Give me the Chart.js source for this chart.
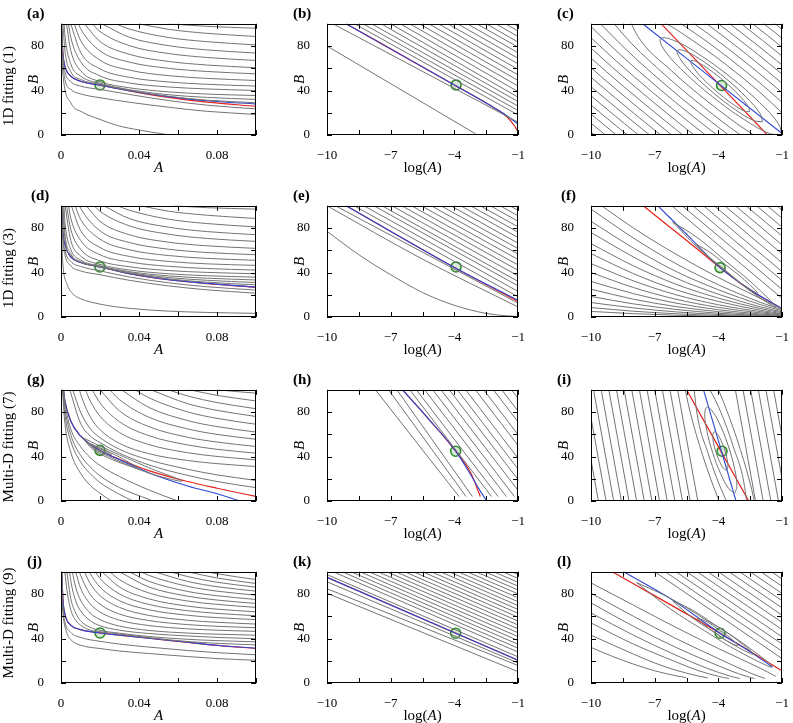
<!DOCTYPE html>
<html><head><meta charset="utf-8">
<script src="https://cdn.jsdelivr.net/npm/chart.js@4.4.1/dist/chart.umd.min.js"></script>
<style>
html,body{margin:0;padding:0;background:#fff;}
body{width:793px;height:723px;position:relative;overflow:hidden;font-family:"Liberation Serif","Times New Roman",serif;color:#000;}
canvas{position:absolute;}
.rl{position:absolute;width:220px;height:20px;line-height:20px;text-align:center;font-size:15px;transform:rotate(-90deg);white-space:nowrap;}
.pl{position:absolute;height:18px;line-height:18px;font-size:15px;font-weight:bold;white-space:nowrap;}
</style></head><body>
<script>
// ---------- labels / ticks ----------
const rowLabels = ['1D fitting (1)', '1D fitting (3)', 'Multi-D fitting (7)', 'Multi-D fitting (9)'];
const panelLetters = ['(a)','(b)','(c)','(d)','(e)','(f)','(g)','(h)','(i)','(j)','(k)','(l)'];
const yTickLabels = [0, 40, 80];
const linTickLabels = [0, 0.04, 0.08];
const logTickLabels = [-10, -7, -4, -1];

// ---------- panel (a) ----------
const aCurves = [
[[0.055,100],[0.075,97.7],[0.1,96]],
[[0.04,100],[0.055,95.1],[0.075,91.4],[0.1,88.6]],
[[0.028,100],[0.035,95.3],[0.055,87.7],[0.075,83.9],[0.1,81]],
[[0.021,100],[0.035,87.9],[0.055,80.4],[0.075,76.5],[0.1,73.7]],
[[0.016,100],[0.02,93.1],[0.035,80.4],[0.055,73.3],[0.075,69.7],[0.1,67]],
[[0.012,100],[0.02,84.1],[0.035,72.6],[0.055,66.2],[0.075,62.9],[0.1,60.5]],
[[0.009,100],[0.01,95.8],[0.02,75.7],[0.035,65.6],[0.055,60],[0.075,57.1],[0.1,55]],
[[0.0068,100],[0.01,85.2],[0.02,67.3],[0.035,58.4],[0.055,53.4],[0.075,50.9],[0.1,49]],
[[0.005,100],[0.01,74.6],[0.02,59.5],[0.035,51.9],[0.055,47.7],[0.075,45.6],[0.1,44]],
[[0.0038,100],[0.005,87.9],[0.01,66.1],[0.02,53.2],[0.035,46.8],[0.055,43.2],[0.075,41.4],[0.1,40]],
[[0.0028,100],[0.005,76],[0.01,58],[0.02,48],[0.035,42.5],[0.055,38.8],[0.075,36.8],[0.1,35.5]],
[[0.0016,100],[0.002,90],[0.005,64],[0.01,53],[0.02,46.5],[0.035,40.8],[0.055,36.2],[0.075,33.8],[0.1,32]],
[[0.001,100],[0.002,76],[0.005,57],[0.01,50],[0.02,45.6],[0.035,40.2],[0.055,34.8],[0.075,31.3],[0.1,29]],
[[0.0003,100],[0.001,70],[0.002,57],[0.005,48],[0.01,44],[0.02,41],[0.035,36.5],[0.055,31],[0.075,26.8],[0.1,23.5]],
[[0.00025,100],[0.001,66],[0.002,50],[0.005,41],[0.01,37],[0.02,33.5],[0.035,29.5],[0.055,25],[0.075,21.3],[0.1,18.5]],
[[0.00015,100],[0.0005,70],[0.0012,51],[0.005,29],[0.011,20.5],[0.02,14],[0.029,8.5],[0.04,4.5],[0.052,1],[0.06,-1]]
];
const aRed  = [[0.0002,100],[0.001,73],[0.002,62],[0.005,53],[0.01,48.3],[0.02,44.8],[0.035,39.6],[0.055,33.8],[0.075,29.5],[0.1,25.8]];
const aBlue = [[0.0002,100],[0.001,73],[0.002,62],[0.005,53],[0.01,48.3],[0.02,44.8],[0.035,39.8],[0.055,34.5],[0.075,30.8],[0.1,27.8]];
const aBest = [0.02, 45];

// ---------- panel (b) ----------
const bTopX   = [-8.7,-8.3,-7.9,-7.45,-7.0,-6.55,-6.1,-5.65,-5.2,-4.75,-4.3,-3.85,-3.4,-2.95,-2.5,-2.05,-1.6,-1.2];
const bRightB = [18,22,26,30,34,39,44,49,54,59,64,69,74,79,83.5,88.5,93.4,97.8];
const bOther  = [[[-9.72,100],[-1,11.5]], [[-10,80],[-3.0,1]]];
const bRed  = [[-9.1,100],[-4,45],[-2,23],[-1.5,16],[-1.2,9],[-1,3]];
const bBlue = [[-9.1,100],[-4,45],[-2,23],[-1.5,17],[-1,9.7]];
const bBest = [-3.92, 45];

// ---------- panel (c) ----------
const cLowerArcs = [
[[-8.379,112],[-7.787,88.54],[-6.209,57.78],[-4.494,29.94],[-2.679,4.26],[-0.725,-18.5]],
[[-9.573,114.86],[-8.085,82.19],[-6.44,52.82],[-4.712,25.28],[-2.91,-0.7],[-1.023,-24.85]],
[[-9.927,107.29],[-8.339,76.74],[-6.666,47.99],[-4.93,20.61],[-3.136,-5.53]],
[[-10.208,101.28],[-8.58,71.59],[-6.889,43.22],[-5.148,15.95],[-3.359,-10.3]],
[[-10.466,95.77],[-8.813,66.61],[-7.11,38.49],[-5.366,11.29],[-3.58,-15.03]],
[[-10.712,90.51],[-9.043,61.69],[-7.331,33.77],[-5.584,6.63],[-3.801,-19.75]],
[[-10.95,85.4],[-9.269,56.86],[-7.551,29.06],[-5.802,1.97],[-4.021,-24.46]],
[[-11.184,80.4],[-9.493,52.05],[-7.77,24.38],[-6.02,-2.7]],
[[-11.415,75.46],[-9.716,47.28],[-7.991,19.66],[-6.238,-7.36]],
[[-11.643,70.59],[-9.94,42.5],[-8.209,14.99],[-6.456,-12.02]],
[[-11.871,65.72],[-10.16,37.79],[-8.428,10.31],[-6.674,-16.68]],
[[-12.097,60.88],[-10.383,33.02],[-8.647,5.63],[-6.892,-21.34]],
[[-12.317,56.18],[-10.601,28.36],[-8.865,0.97],[-7.11,-26.01]],
[[-12.545,51.31],[-10.823,23.61],[-9.083,-3.7]],
[[-12.767,46.56],[-11.044,18.89],[-9.301,-8.36]]
];
const cUpperArcs = [
[[-8.379,112],[-6.995,105.5],[-5.041,82.74],[-3.226,57.06],[-1.511,29.22],[0.067,-1.54]],
[[-6.697,111.85],[-4.81,87.7],[-3.008,61.72],[-1.28,34.18],[0.365,4.81]],
[[-6.443,117.3],[-4.584,92.53],[-2.79,66.39],[-1.054,39.01],[0.619,10.26]],
[[-6.202,122.45],[-4.361,97.3],[-2.572,71.05],[-0.831,43.78],[0.86,15.41]],
[[-4.14,102.03],[-2.354,75.71],[-0.61,48.51],[1.093,20.39]],
[[-3.919,106.75],[-2.136,80.37],[-0.389,53.23],[1.323,25.31]],
[[-3.699,111.46],[-1.918,85.03],[-0.169,57.94],[1.549,30.14]],
[[-3.48,116.14],[-1.7,89.7],[0.05,62.62],[1.773,34.95]],
[[-3.259,120.86],[-1.482,94.36],[0.271,67.34]],
[[-3.041,125.53],[-1.264,99.02],[0.489,72.01]]
];
const cRings = [
[[-2.525,20.82],[-2.814,21.85],[-3.397,28.76],[-4.117,39.69],[-4.781,51.7],[-5.21,61.61],[-5.291,66.72],[-5.002,65.69],[-4.419,58.78],[-3.699,47.85],[-3.035,35.84],[-2.606,25.93],[-2.525,20.82]],
[[-1.923,11.89],[-2.345,13.1],[-3.19,22.59],[-4.231,37.83],[-5.19,54.73],[-5.809,68.78],[-5.923,76.19],[-5.501,74.98],[-4.656,65.49],[-3.615,50.25],[-2.656,33.35],[-2.037,19.3],[-1.923,11.89]],
[[-1.002,0],[-1.594,1.37],[-2.792,13.97],[-4.278,34.45],[-5.652,57.31],[-6.546,76.43],[-6.722,86.7],[-6.13,85.33],[-4.932,72.73],[-3.446,52.25],[-2.072,29.39],[-1.178,10.27],[-1.002,0]]
];
const cRed  = [[-6.69,100],[-1.69,0]];
const cBlue = [[-7.57,100],[-1,1.4]];
const cBest = [-3.85, 44.5];

// ---------- panel (d) ----------
const dCurves = [
[[0.058,100],[0.075,98.3],[0.1,97]],
[[0.041,100],[0.055,95.2],[0.075,91.5],[0.1,88.6]],
[[0.029,100],[0.035,96],[0.055,88],[0.075,84],[0.1,81]],
[[0.022,100],[0.035,88.5],[0.055,80.8],[0.075,76.8],[0.1,74]],
[[0.017,100],[0.02,95],[0.035,82],[0.055,74.5],[0.075,70.6],[0.1,68]],
[[0.013,100],[0.02,86],[0.035,74],[0.055,67.3],[0.075,64],[0.1,61.7]],
[[0.0095,100],[0.01,98],[0.02,77.5],[0.035,67],[0.055,61],[0.075,58],[0.1,56]],
[[0.0072,100],[0.01,88],[0.02,70],[0.035,60.5],[0.055,55.3],[0.075,52.7],[0.1,51]],
[[0.0053,100],[0.01,78],[0.02,62.5],[0.035,54.5],[0.055,50],[0.075,47.8],[0.1,46.4]],
[[0.0039,100],[0.005,89],[0.01,69],[0.02,56],[0.035,49.5],[0.055,45.6],[0.075,43.6],[0.1,42.2]],
[[0.0029,100],[0.005,79],[0.01,61],[0.02,50.5],[0.035,45.2],[0.055,41.8],[0.075,40.1],[0.1,38.9]],
[[0.0021,100],[0.005,69],[0.01,55],[0.02,47.3],[0.035,42.3],[0.055,38.9],[0.075,37.1],[0.1,35.8]],
[[0.0015,100],[0.002,86],[0.005,61],[0.01,51.3],[0.02,45.9],[0.035,40.8],[0.055,37],[0.075,34.9],[0.1,33.3]],
[[0.001,100],[0.002,75],[0.005,57],[0.01,49.8],[0.02,45.4],[0.035,40],[0.055,35.5],[0.075,33],[0.1,31]],
[[0.0007,100],[0.002,70],[0.005,55.5],[0.01,49.3],[0.02,45.2],[0.035,39.4],[0.055,34.3],[0.075,31.3],[0.1,28.9]],
[[0.00025,100],[0.001,72],[0.002,60],[0.005,50],[0.01,45.5],[0.02,41.5],[0.035,36],[0.055,30.8],[0.075,27.2],[0.1,24.2]],
[[0.0002,100],[0.001,69],[0.002,56],[0.005,46],[0.01,41.5],[0.02,38],[0.035,33],[0.055,28],[0.075,24.4],[0.1,21.4]],
[[0.00012,100],[0.0005,65],[0.001,47],[0.003,30],[0.006,21],[0.01,16.5],[0.02,11.6],[0.035,7.8],[0.055,5.3],[0.075,4.1],[0.1,3.3]]
];
const dRed  = [[0.0003,100],[0.001,76],[0.002,65],[0.005,54],[0.01,49],[0.02,45],[0.035,39],[0.055,33.5],[0.075,30],[0.1,26.7]];
const dBlue = [[0.0003,100],[0.001,76],[0.002,65],[0.005,54],[0.01,49],[0.02,45],[0.035,39],[0.055,33.6],[0.075,30.2],[0.1,27]];
const dBest = [0.02, 45];

// ---------- panel (e) ----------
const eTopX   = [-8.72,-8.26,-7.79,-7.41,-6.94,-6.48,-6.02,-5.56,-5.09,-4.63,-4.17,-3.70,-3.24,-2.78,-2.31,-1.85,-1.39];
const eRightB = [18.2,23,28,32,37,42,46.8,51.7,56.6,61.5,66.4,71.4,76.3,81.1,86.1,91,95.9];
const eOther  = [
[[-10,100],[-5.5,52],[-1,9]],
[[-9.6,100],[-1,12.5]],
[[-10,77],[-8.5,56],[-7,38],[-5.5,22],[-4,10.5],[-2.5,3.2],[-1.5,1],[-1.1,0.6]]
];
const eRed  = [[-9.1,100],[-4,44.5],[-1,14]];
const eBlue = [[-9.1,100],[-4,44.5],[-1,15]];
const eBest = [-3.92, 45];

// ---------- panel (f) ----------
const fTopX   = [-6.2,-5.7,-5.2,-4.7,-4.2,-3.7,-3.2,-2.7,-2.2,-1.7,-1.25];
const fRightB = [16.8,24.8,32.8,40.8,48.8,56.8,64.8,72.8,80.8,88.8,96];
const fFan = [
[[-9.5,100],[-8,80],[-6,56.5],[-4,35.5],[-2,16.5],[-1,7.2]],
[[-10,97],[-8,71],[-6,48],[-4,29],[-2,13],[-1,6.5]],
[[-10,86],[-8,62],[-6,41],[-4,24.5],[-2,11],[-1,5.5]],
[[-10,76],[-8,54],[-6,35],[-4,20.5],[-2,9],[-1,4.6]],
[[-10,66],[-8,46],[-6,29.5],[-4,17],[-2,7.5],[-1,3.8]],
[[-10,57],[-8,39],[-6,24.5],[-4,14],[-2,6],[-1,3]],
[[-10,48],[-8,32.5],[-6,20],[-4,11],[-2,4.8],[-1,2.4]],
[[-10,40],[-8,26.5],[-6,16],[-4,8.6],[-2,3.7],[-1,1.8]],
[[-10,32],[-8,21],[-6,12.5],[-4,6.5],[-2,2.7],[-1,1.3]],
[[-10,25],[-8,16],[-6,9.4],[-4,4.8],[-2,1.9],[-1,0.9]],
[[-10,18.5],[-8,11.8],[-6,6.8],[-4,3.4],[-2,1.3],[-1,0.6]],
[[-10,13],[-8,8.2],[-6,4.6],[-4,2.3],[-2,0.8],[-1,0.4]],
[[-10,8.5],[-8,5.2],[-6,2.9],[-4,1.4],[-2,0.5],[-1,0.2]],
[[-10,5],[-8,3],[-6,1.6],[-4,0.7],[-2,0.2],[-1,0.1]]
];
const fRings = [
[[-5.08,65.8],[-4.35,57.5],[-3.6,46],[-2.9,35.5],[-2.15,21.4],[-2.9,30],[-3.6,40.5],[-4.35,52],[-5.08,65.8]],
[[-6.15,85.3],[-5,71.5],[-3.7,51],[-2.5,32],[-1.3,9],[-2.5,23.5],[-3.7,42.5],[-5,63],[-6.15,85.3]]
];
const fRed  = [[-7.54,100],[-5.7,72],[-3.92,44.4],[-2.5,24],[-1,7.5]];
const fBlue = [[-6.85,100],[-5.4,72.5],[-3.92,44.4],[-2.5,24.5],[-1,7.5]];
const fBest = [-3.92, 44.4];

// ---------- panel (g) ----------
const gCurves = [
[[0.08,100],[0.09,98.4],[0.1,97]],
[[0.066,100],[0.08,95],[0.1,90]],
[[0.055,100],[0.065,94.4],[0.08,88.5],[0.1,83]],
[[0.046,100],[0.065,87.5],[0.08,81.5],[0.1,76]],
[[0.038,100],[0.045,92.9],[0.065,80.1],[0.08,74.3],[0.1,69]],
[[0.031,100],[0.045,84.2],[0.065,72.3],[0.08,66.9],[0.1,62]],
[[0.025,100],[0.03,91.1],[0.045,75.4],[0.065,64.8],[0.08,59.9],[0.1,55.5]],
[[0.02,100],[0.03,81],[0.045,66.9],[0.065,57.3],[0.08,53],[0.1,49]],
[[0.016,100],[0.02,88.2],[0.03,71.3],[0.045,58.8],[0.065,50.4],[0.08,46.5],[0.1,43]],
[[0.0125,100],[0.015,89.9],[0.02,76.3],[0.03,61.6],[0.045,50.8],[0.065,43.4],[0.08,40.1],[0.1,37]],
[[0.0095,100],[0.01,96.6],[0.015,75.7],[0.02,64.2],[0.03,51.8],[0.045,42.6],[0.065,36.4],[0.08,33.6],[0.1,31]],
[[0.006,100],[0.01,80],[0.015,65],[0.02,57],[0.03,46.5],[0.045,37],[0.065,28.5],[0.08,23.5],[0.1,18.5]],
[[0.0045,100],[0.01,70],[0.015,58.5],[0.02,52.5],[0.03,43],[0.045,32.5],[0.065,23],[0.08,17.5],[0.1,12]],
[[0.0007,100],[0.002,70],[0.005,44],[0.01,25],[0.015,14],[0.02,7],[0.024,2],[0.027,-1]],
[[0.0009,100],[0.002,78],[0.005,54],[0.01,35.2],[0.015,24.5],[0.02,16.6],[0.03,6],[0.037,0],[0.04,-2]],
[[0.0011,100],[0.002,84],[0.005,59.6],[0.01,41.2],[0.015,30.5],[0.02,22.7],[0.03,12],[0.045,1.5],[0.05,-2]],
[[0.0012,100],[0.002,88],[0.005,64.7],[0.01,49],[0.015,39],[0.02,32],[0.03,22],[0.045,10],[0.06,0],[0.065,-3]]
];
const gRings = [
[[0.015,50.5],[0.019,47.6],[0.023,44.5],[0.026,41.5],[0.022,43.8],[0.018,46.6],[0.015,50.5]],
[[0.013,53],[0.02,47.8],[0.03,39.5],[0.04,29],[0.033,33.5],[0.024,40.5],[0.017,47],[0.013,53]],
[[0.011,57],[0.02,49.5],[0.03,41.5],[0.045,30],[0.062,18],[0.05,22.5],[0.035,31.5],[0.024,39],[0.016,47],[0.011,57]]
];
const gRed  = [[0.0013,100],[0.002,90],[0.005,72],[0.01,58.5],[0.015,51],[0.02,45.5],[0.03,37.5],[0.045,27.3],[0.065,17.5],[0.08,11.5],[0.1,4.1]];
const gBlue = [[0.0013,100],[0.002,90],[0.005,72],[0.01,58.5],[0.015,51],[0.02,45.5],[0.03,37],[0.045,25.5],[0.065,13.5],[0.08,6.5],[0.092,0],[0.1,-4]];
const gBest = [0.02, 45.5];

// ---------- panel (h) ----------
const hTopX    = [-7.72,-7.1,-6.71,-6.1,-5.79,-5.40,-5.02,-4.63,-4.24,-3.86,-3.47,-3.01,-2.62,-2.16,-1.77,-1.31];
const hBottomX = [-3.78,-3.45,-3.15,-2.25,-1.94,-1.55,-1.17,-0.78,-0.39,-0.01,0.38,0.84,1.23,1.69,2.08,2.54];
const hRed  = [[-6.44,100],[-5.2,73.5],[-3.94,44.8],[-3.2,24],[-2.78,4.1]];
const hBlue = [[-6.44,100],[-5.2,73.5],[-3.94,44.8],[-3.2,22.5],[-2.75,8],[-2.47,0]];
const hBest = [-3.94, 44.8];

// ---------- panel (i) ----------
const iTopX    = [-10.6,-10.24,-9.88,-9.52,-9.16,-8.8,-8.44,-8.08,-7.72,-7.36,-7.0,-6.64,-6.28,-5.92,-3.2,-2.84,-2.48,-2.12,-1.76,-1.4,-1.04];
const iBottomX = [-9.65,-9.29,-8.93,-8.57,-8.21,-7.85,-7.49,-7.13,-6.77,-6.41,-6.05,-5.69,-5.33,-4.97,-2.25,-1.89,-1.53,-1.17,-0.81,-0.45,-0.09];
const iArcs = [
[[-5.19,110.64],[-5.039,82.59],[-4.474,42.36],[-3.699,3.29],[-2.956,-21.54]],
[[-4.814,112.7],[-4.071,87.87],[-3.296,48.8],[-2.731,8.57],[-2.58,-19.48]],
[[-5.65,108.13],[-5.341,80.94],[-4.739,40.92],[-4.001,1.64],[-3.416,-24.05]],
[[-4.354,115.21],[-3.769,89.52],[-3.031,50.24],[-2.429,10.22],[-2.12,-16.97]]
];
const iRings = [
[[-3.616,27.64],[-3.758,29.39],[-3.94,35.3],[-4.114,43.77],[-4.232,52.56],[-4.264,59.29],[-4.2,62.16],[-4.058,60.41],[-3.876,54.5],[-3.702,46.03],[-3.584,37.24],[-3.552,30.51],[-3.616,27.64]],
[[-3.231,6.9],[-3.51,11.05],[-3.89,24.43],[-4.268,43.49],[-4.544,63.11],[-4.642,78.03],[-4.539,84.26],[-4.26,80.12],[-3.88,66.73],[-3.502,47.67],[-3.226,28.05],[-3.128,13.14],[-3.231,6.9]]
];
const iRed  = [[-5.5,100],[-2.57,0]];
const iBlue = [[-4.7,100],[-3.17,0]];
const iBest = [-3.83, 44.8];

// ---------- panel (j) ----------
const jCurves = [
[[0.075,100],[0.08,98.25],[0.1,93]],
[[0.065,100],[0.08,94.4],[0.1,89.5]],
[[0.056,100],[0.065,95.7],[0.08,90.6],[0.1,86.2]],
[[0.048,100],[0.065,91.3],[0.08,86.6],[0.1,82.6]],
[[0.041,100],[0.045,96.8],[0.065,86.9],[0.08,82.6],[0.1,79]],
[[0.035,100],[0.045,91.5],[0.065,82.3],[0.08,78.5],[0.1,75.1]],
[[0.03,100],[0.045,86.4],[0.065,78.1],[0.08,74.6],[0.1,71.5]],
[[0.025,100],[0.03,92.9],[0.045,81],[0.065,73.7],[0.08,70.7],[0.1,68]],
[[0.021,100],[0.03,86.3],[0.045,75.7],[0.065,69.1],[0.08,66.4],[0.1,64]],
[[0.0175,100],[0.02,94],[0.03,80.1],[0.045,70.7],[0.065,65],[0.08,62.6],[0.1,60.5]],
[[0.0145,100],[0.015,98.3],[0.02,86.2],[0.03,74],[0.045,65.9],[0.065,60.9],[0.08,58.8],[0.1,57]],
[[0.012,100],[0.015,89.3],[0.02,78.6],[0.03,68],[0.045,60.8],[0.065,56.4],[0.08,54.6],[0.1,53]],
[[0.0095,100],[0.01,97.2],[0.015,79.6],[0.02,70.8],[0.03,62],[0.045,56.2],[0.065,52.5],[0.08,51],[0.1,49.7]],
[[0.0075,100],[0.01,85.5],[0.015,71.1],[0.02,63.8],[0.03,56.5],[0.045,51.7],[0.065,48.7],[0.08,47.5],[0.1,46.4]],
[[0.0058,100],[0.0075,86.3],[0.01,74.6],[0.015,62.9],[0.02,57],[0.03,51.2],[0.045,47.3],[0.065,44.9],[0.08,43.9],[0.1,43]],
[[0.0044,100],[0.005,92],[0.0075,74],[0.01,65],[0.015,56],[0.02,51.5],[0.03,47.5],[0.045,44.5],[0.065,42.3],[0.08,41],[0.1,39.8]],
[[0.003,100],[0.005,76],[0.0075,63],[0.01,56],[0.015,50],[0.02,47.3],[0.03,44.8],[0.045,41.8],[0.065,39.3],[0.08,38.1],[0.1,37]],
[[0.002,100],[0.003,84],[0.005,66],[0.0075,56.5],[0.01,52],[0.015,47.5],[0.02,46],[0.03,44],[0.045,40.8],[0.065,37.3],[0.08,35.7],[0.1,34.3]],
[[0.0003,100],[0.001,68],[0.002,55],[0.005,45.5],[0.01,41],[0.02,37.5],[0.03,35],[0.045,32.3],[0.065,29.2],[0.08,27.3],[0.1,25.4]],
[[0.0002,100],[0.0006,72],[0.001,62],[0.003,45],[0.005,39],[0.01,34],[0.02,31],[0.03,28.8],[0.045,26.5],[0.065,23.8],[0.08,22],[0.1,20.4]]
];
const jRed  = [[0.0004,100],[0.001,75],[0.002,62],[0.005,52],[0.01,48],[0.02,45],[0.03,43],[0.045,40.3],[0.065,36.5],[0.08,33.8],[0.1,31]];
const jBlue = [[0.0004,100],[0.001,75],[0.002,62],[0.005,52],[0.01,48],[0.02,45],[0.03,43],[0.045,40.3],[0.065,36.6],[0.08,34],[0.1,31.3]];
const jBest = [0.02, 45];

// ---------- panel (k) ----------
const kTopX   = [-9.7,-9.28,-8.86,-8.44,-8.02,-7.6,-7.18,-6.76,-6.34,-5.92,-5.5,-5.08,-4.66,-4.24,-3.82,-3.4,-2.98,-2.56,-2.14,-1.72,-1.3];
const kRightB = [27.8,31.3,34.8,38.2,41.7,45.2,48.7,52.2,55.7,59.2,62.6,66.1,69.6,73.1,76.6,80.1,83.6,87.1,90.5,94,97.5];
const kLeftB  = [97.5,91,84.8,80.7];
const kEndB   = [23.5,18,15.7,10.2];
const kRed  = [[-10,95],[-1,20.4]];
const kBlue = [[-10,95],[-1,20.4]];
const kBest = [-3.94, 44.8];

// ---------- panel (l) ----------
const lTopX   = [-7.0,-6.5,-6.0,-5.5,-5.0,-4.5,-4.0,-3.5,-3.0,-2.5,-2.0,-1.5];
const lRightB = [22,28.5,35,41.5,48,54.5,61,67.5,74,80.5,87,93.5];
const lFan = [
[[-10,90],[-8,70],[-6,50],[-4,31],[-2,13],[-1.3,6]],
[[-10,80.7],[-8,60],[-6,40],[-4,22],[-2.5,9],[-1.8,4]],
[[-10,72],[-8,51],[-6,32],[-4,15.5],[-3,8],[-2.3,4]],
[[-10,63],[-8,43],[-6,25],[-4.5,13],[-3.5,6.5],[-3,4]],
[[-10,54],[-8,35],[-6,19],[-5,11.5],[-4,6],[-3.5,4]],
[[-10,43],[-8,26],[-7,18],[-6,11.5],[-5,6.5],[-4.5,4.5]],
[[-10,32],[-9,24],[-8,17],[-7,11],[-6,6.5],[-5.5,4.8]]
];
const lRings = [
[[-7.85,90.3],[-6.25,76],[-4.65,57.5],[-3.05,38.5],[-1.46,14.4],[-3.05,28.5],[-4.65,47],[-6.25,66.5],[-7.85,90.3]],
[[-6.15,73.8],[-5.2,65.3],[-4.25,53.4],[-3.3,41.4],[-2.35,26],[-3.3,34.4],[-4.25,46.4],[-5.2,58.3],[-6.15,73.8]],
[[-5.0,58.6],[-4.52,54.9],[-4.04,48.6],[-3.56,42.4],[-3.08,33.7],[-3.56,37.4],[-4.04,43.6],[-4.52,49.9],[-5.0,58.6]]
];
const lRed  = [[-9.0,100],[-3.92,44.8],[-1,11]];
const lBlue = [[-8.46,100],[-6.15,74.5],[-3.92,44.8],[-2.5,28],[-1.46,14.4]];
const lBest = [-3.92, 44.8];

// ---------- build helpers (tables from the arrays above) ----------
const segTopRight = (tx, rb) => tx.map((t, i) => [[t, 100], [-1, rb[i]]]);
const segTopBottom = (tx, bx, yb) => tx.map((t, i) => [[t, 100], [bx[i], yb]]);
const segLeftRight = (lb, rb) => lb.map((b, i) => [[-10, b], [-1, rb[i]]]);

const FONT = '"Liberation Serif","Times New Roman",serif';
const GRAY = '#747474', RED = '#e2231a', BLUE = '#2c48d4', GREEN = '#2e8b2e';
const COLS = [61, 327, 591];
const ROWS = [15, 197, 381, 563];
const PW = 195, PH = 120;

const panels = [
 {r:0,c:0,kind:'lin', open:aCurves, rings:[], red:aRed, blue:aBlue, best:aBest},
 {r:0,c:1,kind:'log', open:segTopRight(bTopX,bRightB).concat(bOther), rings:[], red:bRed, blue:bBlue, best:bBest},
 {r:0,c:2,kind:'log', open:cLowerArcs.concat(cUpperArcs), rings:cRings, red:cRed, blue:cBlue, best:cBest},
 {r:1,c:0,kind:'lin', open:dCurves, rings:[], red:dRed, blue:dBlue, best:dBest},
 {r:1,c:1,kind:'log', open:segTopRight(eTopX,eRightB).concat(eOther), rings:[], red:eRed, blue:eBlue, best:eBest},
 {r:1,c:2,kind:'log', open:segTopRight(fTopX,fRightB).concat(fFan), rings:fRings, red:fRed, blue:fBlue, best:fBest},
 {r:2,c:0,kind:'lin', open:gCurves, rings:gRings, red:gRed, blue:gBlue, best:gBest},
 {r:2,c:1,kind:'log', open:segTopBottom(hTopX,hBottomX,4), rings:[], red:hRed, blue:hBlue, best:hBest},
 {r:2,c:2,kind:'log', open:segTopBottom(iTopX,iBottomX,0).concat(iArcs), rings:iRings, red:iRed, blue:iBlue, best:iBest},
 {r:3,c:0,kind:'lin', open:jCurves, rings:[], red:jRed, blue:jBlue, best:jBest},
 {r:3,c:1,kind:'log', open:segTopRight(kTopX,kRightB).concat(segLeftRight(kLeftB,kEndB)), rings:[], red:kRed, blue:kBlue, best:kBest},
 {r:3,c:2,kind:'log', open:segTopRight(lTopX,lRightB).concat(lFan), rings:lRings, red:lRed, blue:lBlue, best:lBest}
];

const xy = pts => pts.map(p => ({x:p[0], y:p[1]}));
const near = (v, arr) => arr.some(a => Math.abs(a - v) < 1e-9);
const fmt = v => (v < 0 ? '\u2212' + Math.abs(v) : String(v));

const framePlugin = {
  id: 'frame',
  afterDraw(chart) {
    const {ctx, chartArea: ca, scales: {x, y}} = chart;
    ctx.save();
    ctx.strokeStyle = '#000'; ctx.lineWidth = 1;
    ctx.strokeRect(Math.round(ca.left) + 0.5, Math.round(ca.top) + 0.5, Math.round(ca.right - ca.left) - 1, Math.round(ca.bottom - ca.top) - 1);
    const L = 5;
    ctx.beginPath();
    x.ticks.forEach(t => {
      const px = Math.round(x.getPixelForValue(t.value)) + 0.5;
      ctx.moveTo(px, ca.bottom); ctx.lineTo(px, ca.bottom - L);
      ctx.moveTo(px, ca.top); ctx.lineTo(px, ca.top + L);
    });
    y.ticks.forEach(t => {
      const py = Math.round(y.getPixelForValue(t.value)) + 0.5;
      ctx.moveTo(ca.left, py); ctx.lineTo(ca.left + L, py);
      ctx.moveTo(ca.right, py); ctx.lineTo(ca.right - L, py);
    });
    ctx.stroke();
    const kind = chart.options.plugins.frame.kind;
    const cx = (ca.left + ca.right) / 2, ty = ca.bottom + 37;
    ctx.fillStyle = '#000'; ctx.textBaseline = 'alphabetic';
    const parts = kind === 'lin' ? [['A', 'italic']] : [['log(', 'normal'], ['A', 'italic'], [')', 'normal']];
    let w = 0;
    parts.forEach(p => { ctx.font = p[1] + ' 15px ' + FONT; w += ctx.measureText(p[0]).width; });
    let xx = cx - w / 2;
    ctx.textAlign = 'left';
    parts.forEach(p => { ctx.font = p[1] + ' 15px ' + FONT; ctx.fillText(p[0], xx, ty); xx += ctx.measureText(p[0]).width; });
    ctx.restore();
  }
};

panels.forEach((p, idx) => {
  const cv = document.createElement('canvas');
  const W = 40 + PW + 8, H = 8 + PH + 46;
  cv.width = W; cv.height = H;
  cv.style.width = W + 'px'; cv.style.height = H + 'px';
  cv.style.left = (COLS[p.c] - 40) + 'px';
  cv.style.top = (ROWS[p.r] - 8) + 'px';
  document.body.appendChild(cv);

  const ds = [];
  p.open.forEach(l => ds.push({data: xy(l), showLine: true, borderColor: GRAY, borderWidth: 1, pointRadius: 0, cubicInterpolationMode: 'monotone', fill: false}));
  p.rings.forEach(l => ds.push({data: xy(l), showLine: true, borderColor: GRAY, borderWidth: 1, pointRadius: 0, tension: 0.4, fill: false}));
  ds.push({data: xy(p.blue), showLine: true, borderColor: BLUE, borderWidth: 1.1, pointRadius: 0, cubicInterpolationMode: 'monotone', fill: false});
  ds.push({data: xy(p.red), showLine: true, borderColor: RED, borderWidth: 1.2, pointRadius: 0, cubicInterpolationMode: 'monotone', fill: false});
  ds.push({data: xy([p.best]), showLine: false, pointRadius: 5, pointBorderWidth: 1.6, pointBorderColor: GREEN, pointBackgroundColor: 'rgba(150,200,140,0.35)'});

  const lin = p.kind === 'lin';
  new Chart(cv, {
    type: 'scatter',
    data: {datasets: ds},
    plugins: [framePlugin],
    options: {
      responsive: false, animation: false, devicePixelRatio: 1,
      layout: {padding: {top: 8, right: 8, left: 0, bottom: 0}},
      plugins: {legend: {display: false}, tooltip: {enabled: false}, frame: {kind: p.kind}},
      scales: {
        x: {
          type: 'linear', min: lin ? 0 : -10, max: lin ? 0.1 : -1,
          afterFit: s => { s.height = 46; },
          grid: {display: false}, border: {display: false},
          ticks: {stepSize: lin ? 0.02 : 1.5, autoSkip: false, maxRotation: 0, padding: 5, color: '#000',
            font: {family: FONT, size: 13},
            callback: v => lin ? (near(v, linTickLabels) ? (Math.abs(v) < 1e-9 ? '0' : v.toFixed(2)) : '') : (near(v, logTickLabels) ? fmt(Math.round(v)) : '')}
        },
        y: {
          type: 'linear', min: 0, max: 100,
          afterFit: s => { s.width = 40; },
          grid: {display: false}, border: {display: false},
          title: {display: true, text: 'B', color: '#000', font: {family: FONT, size: 15, style: 'italic'}, padding: {top: 4, bottom: 0}},
          ticks: {stepSize: 20, autoSkip: false, padding: 9, color: '#000', font: {family: FONT, size: 13},
            callback: v => near(v, yTickLabels) ? String(v) : ''}
        }
      }
    }
  });

  const pl = document.createElement('div');
  pl.className = 'pl';
  pl.textContent = panelLetters[idx];
  pl.style.left = (COLS[p.c] - 34 + (p.r === 1 && p.c !== 1 ? 4 : 0)) + 'px';
  pl.style.top = (ROWS[p.r] - 11) + 'px';
  document.body.appendChild(pl);
});

const rowCenters = [86, 268, 447, 623];
rowLabels.forEach((t, i) => {
  const d = document.createElement('div');
  d.className = 'rl';
  d.textContent = t;
  d.style.left = (8 - 110) + 'px';
  d.style.top = (rowCenters[i] - 10) + 'px';
  document.body.appendChild(d);
});
</script>
</body></html>
